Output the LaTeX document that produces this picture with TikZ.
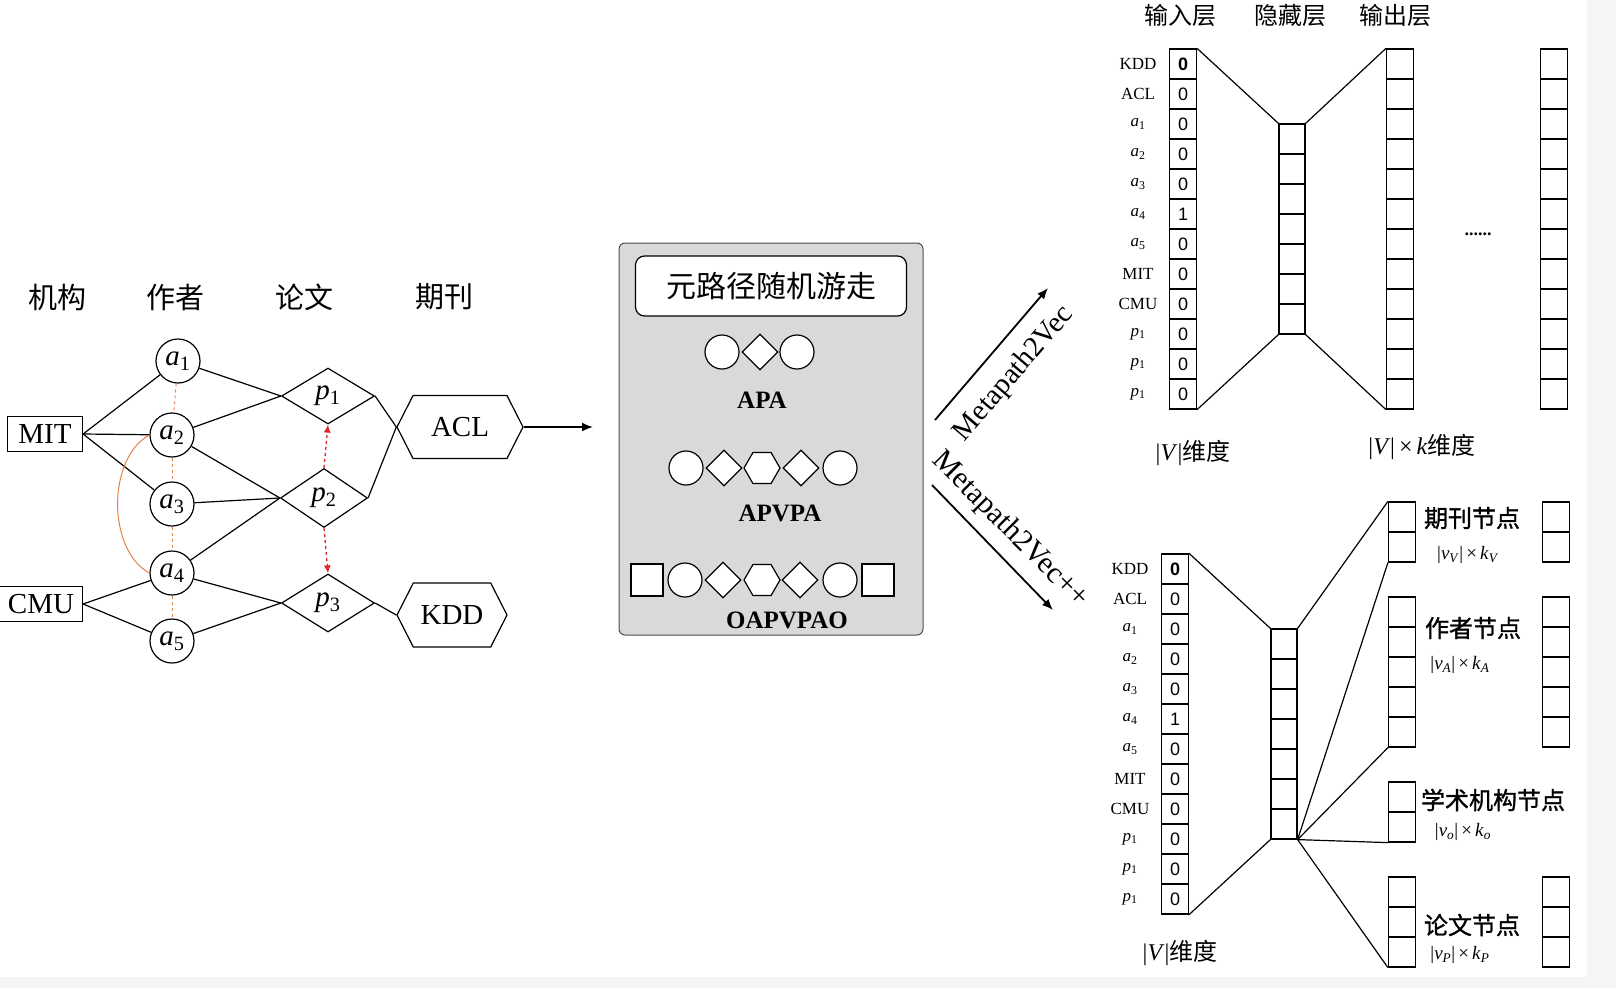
\documentclass[tikz,border=0pt]{standalone}
\usepackage{fontspec}
\setmainfont{Liberation Serif}
\newfontfamily\cjk{Noto Sans CJK SC}
\newfontfamily\cjkmed{Noto Sans CJK SC}[FakeBold=1.2]
\newfontfamily\sansnum{Liberation Sans}
\usetikzlibrary{arrows.meta,shapes.geometric,shapes.symbols}
\definecolor{simorange}{RGB}{226,131,76}
\definecolor{walkred}{RGB}{222,40,40}
\newcommand{\itsub}[2]{\textit{#1}\textsubscript{#2}}
\newcommand{\dimsz}[1]{|\itsub{v}{\textit{#1}}|\,×\,\itsub{k}{\textit{#1}}}

\begin{document}
\begin{tikzpicture}[x=1pt,y=-1pt,line width=1.2pt,
  link/.style={draw=black,line width=1.2pt},
  author/.style={draw,circle,minimum size=44pt,inner sep=0pt,font=\fontsize{29}{30}\selectfont},
  paper/.style={draw,diamond,aspect=1.6,minimum width=93pt,minimum height=56pt,inner sep=0pt,font=\fontsize{29}{30}\selectfont},
  venue/.style={draw,signal,signal to=east and west,signal pointer angle=126,minimum height=63pt,inner sep=0pt,font=\fontsize{29}{30}\selectfont},
  org/.style={draw,rectangle,minimum height=35pt,inner sep=0pt,font=\fontsize{29}{30}\selectfont},
  head/.style={font=\cjk\fontsize{29}{30}\selectfont},
  scirc/.style={draw,circle,fill=white,minimum size=34pt,inner sep=0pt},
  sdiam/.style={draw,diamond,fill=white,minimum size=36pt,inner sep=0pt},
  shex/.style={draw,regular polygon,regular polygon sides=6,fill=white,minimum size=36pt,inner sep=0pt},
  ssq/.style={draw,rectangle,fill=white,minimum size=32pt,inner sep=0pt},
  pathname/.style={font=\bfseries\fontsize{25}{26}\selectfont},
  cell/.style={draw,rectangle,minimum width=27pt,minimum height=30pt,inner sep=0pt,font=\sansnum\fontsize{18}{18}\selectfont},
  rowlab/.style={font=\fontsize{17}{17}\selectfont},
  layer/.style={font=\cjk\fontsize{24}{26}\selectfont},
  kind/.style={font=\cjkmed\fontsize{24}{26}\selectfont},
  dimlab/.style={font=\fontsize{19}{19}\selectfont},
  bigdim/.style={font=\fontsize{24}{26}\selectfont},
  >={Latex[length=11pt,width=9pt]}]
\useasboundingbox (0,0) rectangle (1616,988);
\fill[black!4] (1587,0) rectangle (1616,988);
\fill[black!4] (0,977) rectangle (1616,988);

% heterogeneous graph
\node[head] at (57,297) {机构};
\node[head] at (175,297) {作者};
\node[head] at (304,297) {论文};
\node[head] at (444,297) {期刊};

\node[org,minimum width=75pt] (O1) at (45,434) {MIT};
\node[org,minimum width=83pt] (O2) at (41,604) {CMU};

\node[author] (A1) at (178,361) {\itsub{a}{1}};
\node[author] (A2) at (172,435) {\itsub{a}{2}};
\node[author] (A3) at (172,504) {\itsub{a}{3}};
\node[author] (A4) at (172,573) {\itsub{a}{4}};
\node[author] (A5) at (172,641) {\itsub{a}{5}};

\node[paper] (P1) at (328,396) {\itsub{p}{1}};
\node[paper,minimum width=87pt,minimum height=59pt] (P2) at (324,498) {\itsub{p}{2}};
\node[paper,minimum height=58pt] (P3) at (328,603) {\itsub{p}{3}};

\node[venue,minimum width=126pt] (V1) at (460,427) {ACL};
\node[venue,minimum width=110pt,minimum height=64pt] (V2) at (452,615) {KDD};
\coordinate (E1) at (593,427);

\path[link] (O1.east) edge (A1) edge (A2) edge (A3);
\path[link] (O2.east) edge (A4) edge (A5);
\path[link] (A1) edge (P1.west);
\path[link] (A2) edge (P1.west) edge (P2.west);
\path[link] (A3) edge (P2.west);
\path[link] (A4) edge (P2.west) edge (P3.west);
\path[link] (A5) edge (P3.west);
\path[link] (P1.east) edge (V1.west);
\path[link] (P2.east) edge (V1.west);
\path[link] (P3.east) edge (V2.west);
\draw[link,->,line width=1.8pt] (V1.east) -- (E1);

\path[draw=simorange,dashed,line width=0.9pt] (A1) edge (A2) (A2) edge (A3) (A3) edge (A4) (A4) edge (A5);
\draw[simorange,line width=1pt] (A2.west) .. controls (107,458) and (107,550) .. (A4.west);
\draw[walkred,dashed,line width=1.3pt,-{Latex[length=8pt,width=7pt]}] (P2.north) -- (P1.south);
\draw[walkred,dashed,line width=1.3pt,-{Latex[length=8pt,width=7pt]}] (P2.south) -- (P3.north);

% meta-path random walk
\node[draw=black!70,fill=black!15,rounded corners=6pt,minimum width=304pt,minimum height=392pt,line width=1pt] (box) at (771,439) {};
\node[draw,fill=white,rounded corners=9pt,minimum width=271pt,minimum height=60pt,font=\cjk\fontsize{30}{32}\selectfont] (title) at (771,286) {元路径随机游走};

\node[scirc] (R1a) at (722,352) {};
\node[sdiam] (R1b) at (760,352) {};
\node[scirc] (R1c) at (797,352) {};
\node[pathname] at (762,400) {APA};

\node[scirc] (R2a) at (686,468) {};
\node[sdiam] (R2b) at (724,468) {};
\node[shex] (R2c) at (762,468) {};
\node[sdiam] (R2d) at (801,468) {};
\node[scirc] (R2e) at (840,468) {};
\node[pathname] at (780,513) {APVPA};

\node[ssq] (R3a) at (647,580) {};
\node[scirc] (R3b) at (685,580) {};
\node[sdiam] (R3c) at (723,580) {};
\node[shex] (R3d) at (762,580) {};
\node[sdiam] (R3e) at (800,580) {};
\node[scirc] (R3f) at (840,580) {};
\node[ssq] (R3g) at (878,580) {};
\node[pathname] at (787,620) {OAPVPAO};

\coordinate (M1) at (935,420);
\coordinate (M2) at (1048,288);
\coordinate (M3) at (932,485);
\coordinate (M4) at (1053,610);
\draw[link,->,line width=1.8pt] (M1) -- (M2);
\draw[link,->,line width=1.8pt] (M3) -- (M4);
\node[rotate=49.5,font=\fontsize{29}{30}\selectfont] at (1014,374) {Metapath2Vec};
\node[rotate=-45,font=\fontsize{30}{31}\selectfont] at (1010,530) {Metapath2Vec++};

% skip-gram, upper
\node[layer] at (1180,15) {输入层};
\node[layer] at (1290,15) {隐藏层};
\node[layer] at (1395,15) {输出层};

\foreach \v [count=\i] in {\textbf{0},0,0,0,0,1,0,0,0,0,0,0}
  \node[cell] (x\i) at (1183,{34+30*\i}) {\v};
\foreach \t [count=\i] in {KDD,ACL,\itsub{a}{1},\itsub{a}{2},\itsub{a}{3},\itsub{a}{4},\itsub{a}{5},MIT,CMU,\itsub{p}{1},\itsub{p}{1},\itsub{p}{1}}
  \node[rowlab] at (1138,{34+30*\i}) {\t};
\foreach \i in {1,...,7}
  \node[cell,minimum width=26pt] (h\i) at (1292,{109+30*\i}) {};
\foreach \i in {1,...,12}
  \node[cell] (y\i) at (1400,{34+30*\i}) {};
\foreach \i in {1,...,12}
  \node[cell] (z\i) at (1554,{34+30*\i}) {};

\path[link] (x1.north east) edge (h1.north west) (x12.south east) edge (h7.south west);
\path[link] (h1.north east) edge (y1.north west) (h7.south east) edge (y12.south west);

\node[font=\bfseries\fontsize{18}{18}\selectfont] at (1478,234) {......};
\node[bigdim] at (1193,453) {|\textit{V}|{\cjk 维度}};
\node[bigdim] at (1422,447) {|\textit{V}|\,×\,\textit{k}{\cjk 维度}};

% skip-gram, lower
\foreach \v [count=\i] in {\textbf{0},0,0,0,0,1,0,0,0,0,0,0}
  \node[cell] (u\i) at (1175,{539+30*\i}) {\v};
\foreach \t [count=\i] in {KDD,ACL,\itsub{a}{1},\itsub{a}{2},\itsub{a}{3},\itsub{a}{4},\itsub{a}{5},MIT,CMU,\itsub{p}{1},\itsub{p}{1},\itsub{p}{1}}
  \node[rowlab] at (1130,{539+30*\i}) {\t};
\foreach \i in {1,...,7}
  \node[cell,minimum width=26pt] (g\i) at (1284,{614+30*\i}) {};
\foreach \i in {1,2} {
  \node[cell] (j\i) at (1402,{487+30*\i}) {};
  \node[cell] (jj\i) at (1556,{487+30*\i}) {};
  \node[cell] (o\i) at (1402,{767+30*\i}) {};
}
\foreach \i in {1,...,5} {
  \node[cell] (w\i) at (1402,{582+30*\i}) {};
  \node[cell] (ww\i) at (1556,{582+30*\i}) {};
}
\foreach \i in {1,2,3} {
  \node[cell] (q\i) at (1402,{862+30*\i}) {};
  \node[cell] (qq\i) at (1556,{862+30*\i}) {};
}

\path[link] (u1.north east) edge (g1.north west) (u12.south east) edge (g7.south west);
\path[link] (g1.north east) edge (j1.north west);
\path[link] (g7.south east) edge (j2.south west) edge (w5.south west) edge (o2.south west) edge (q3.south west);

\node[kind] at (1472,518) {期刊节点};
\node[dimlab] at (1468,555) {\dimsz{V}};
\node[kind] at (1473,628) {作者节点};
\node[dimlab] at (1460,665) {\dimsz{A}};
\node[kind] at (1493,800) {学术机构节点};
\node[dimlab] at (1463,832) {\dimsz{o}};
\node[kind] at (1472,925) {论文节点};
\node[dimlab] at (1460,955) {\dimsz{P}};
\node[bigdim] at (1180,953) {|\textit{V}|{\cjk 维度}};

\end{tikzpicture}
\end{document}
